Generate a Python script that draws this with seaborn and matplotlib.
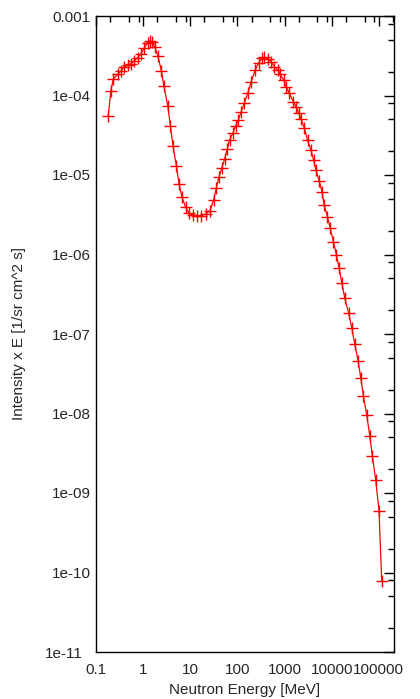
import matplotlib
matplotlib.use("Agg")
import matplotlib.pyplot as plt
import matplotlib.ticker as mticker
import seaborn as sns
import pandas as pd

energy = [0.182, 0.207, 0.232, 0.288, 0.338, 0.396, 0.468, 0.550, 0.646, 0.762,
          0.893, 1.05, 1.24, 1.39, 1.55, 1.77, 2.05, 2.45, 2.74, 3.33,
          3.79, 4.31, 5.08, 5.77, 6.68, 8.00, 9.40, 11.4, 13.9, 17.2,
          21.2, 26.4, 31.3, 35.6, 40.5, 46.8, 53.3, 60.8, 68.1, 80.0,
          91.2, 105, 120, 141, 166, 196, 238, 283, 334, 374,
          440, 519, 608, 714, 804, 957, 1076, 1262, 1535, 1750,
          1986, 2234, 2624, 3076, 3631, 4121, 4634, 5445, 6209, 6934,
          8147, 9290, 10914, 12618, 14421, 16443, 19011, 22856, 26730, 30903,
          36308, 41400, 46989, 55463, 64269, 72946, 85901, 100925, 115080]

intensity = [5.57e-5, 1.15e-4, 1.61e-4, 1.85e-4, 2.03e-4, 2.26e-4, 2.42e-4, 2.51e-4, 2.72e-4, 2.99e-4,
             3.33e-4, 3.93e-4, 4.61e-4, 4.89e-4, 4.67e-4, 4.11e-4, 3.14e-4, 2.03e-4, 1.33e-4, 7.45e-5,
             4.13e-5, 2.32e-5, 1.30e-5, 7.71e-6, 5.24e-6, 3.93e-6, 3.30e-6, 3.14e-6, 3.08e-6, 3.08e-6,
             3.23e-6, 3.57e-6, 4.85e-6, 6.81e-6, 9.35e-6, 1.24e-5, 1.57e-5, 2.10e-5, 2.75e-5, 3.35e-5,
             4.13e-5, 4.92e-5, 6.25e-5, 8.11e-5, 1.07e-4, 1.49e-4, 2.09e-4, 2.59e-4, 2.94e-4, 3.03e-4,
             2.88e-4, 2.66e-4, 2.30e-4, 2.09e-4, 1.85e-4, 1.57e-4, 1.29e-4, 1.07e-4, 8.36e-5, 7.23e-5,
             6.08e-5, 5.06e-5, 3.90e-5, 2.74e-5, 2.06e-5, 1.55e-5, 1.16e-5, 8.41e-6, 6.17e-6, 4.20e-6,
             2.99e-6, 2.14e-6, 1.45e-6, 9.86e-7, 6.70e-7, 4.35e-7, 2.81e-7, 1.84e-7, 1.18e-7, 7.48e-8,
             4.61e-8, 2.82e-8, 1.67e-8, 9.57e-9, 5.21e-9, 2.92e-9, 1.46e-9, 6.00e-10, 7.89e-11]

x_ticks = [0.1, 1, 10, 100, 1000, 10000, 100000]
x_tick_labels = ["0.1", "1", "10", "100", "1000", "10000", "100000"]
y_ticks = [1e-11, 1e-10, 1e-9, 1e-8, 1e-7, 1e-6, 1e-5, 1e-4, 1e-3]
y_tick_labels = ["1e-11", "1e-10", "1e-09", "1e-08", "1e-07", "1e-06", "1e-05", "1e-04", "0.001"]

sns.set_style("white")
plt.rcParams['font.family'] = ['Liberation Sans', 'DejaVu Sans']

df = pd.DataFrame({"E": energy, "I": intensity})

fig = plt.figure(figsize=(4.2, 6.99), dpi=100)
ax = fig.add_axes([96/420, 1 - 652/699, (394-96)/420, (652-16)/699])

sns.lineplot(data=df, x="E", y="I", ax=ax, color="#ff0000", linewidth=0.9,
             marker="+", markersize=8, markeredgewidth=1.0, markeredgecolor="#ff0000",
             sort=False, estimator=None)

ax.set_xscale("log")
ax.set_yscale("log")
ax.set_xlim(0.1, 2.1e5)
ax.set_ylim(1e-11, 1e-3)

ax.xaxis.set_major_locator(mticker.FixedLocator(x_ticks))
ax.xaxis.set_major_formatter(mticker.FixedFormatter(x_tick_labels))
ax.yaxis.set_major_locator(mticker.FixedLocator(y_ticks))
ax.yaxis.set_major_formatter(mticker.FixedFormatter(y_tick_labels))
ax.xaxis.set_minor_locator(mticker.LogLocator(base=10, subs=[2, 5, 8], numticks=20))
ax.yaxis.set_minor_locator(mticker.LogLocator(base=10, subs=[2, 5, 8], numticks=20))
ax.xaxis.set_minor_formatter(mticker.NullFormatter())
ax.yaxis.set_minor_formatter(mticker.NullFormatter())

ax.tick_params(which="both", direction="in", top=True, right=True, color="black", width=1.0, labelsize=11)
ax.tick_params(which="major", length=7)
ax.tick_params(axis="x", which="major", pad=8)
ax.tick_params(axis="y", which="major", pad=4)
ax.tick_params(which="minor", length=4)

for s in ax.spines.values():
    s.set_color("black")
    s.set_linewidth(1.0)

ax.set_xlabel("Neutron Energy [MeV]", fontsize=11, labelpad=4)
ax.set_ylabel("Intensity x E [1/sr cm^2 s]", fontsize=11, labelpad=14)

# bottom-most y label sits a little further left, as in the reference
ax.yaxis.get_major_ticks()[0].label1.set_x(-0.025)

fig.savefig("out.png", dpi=100)
